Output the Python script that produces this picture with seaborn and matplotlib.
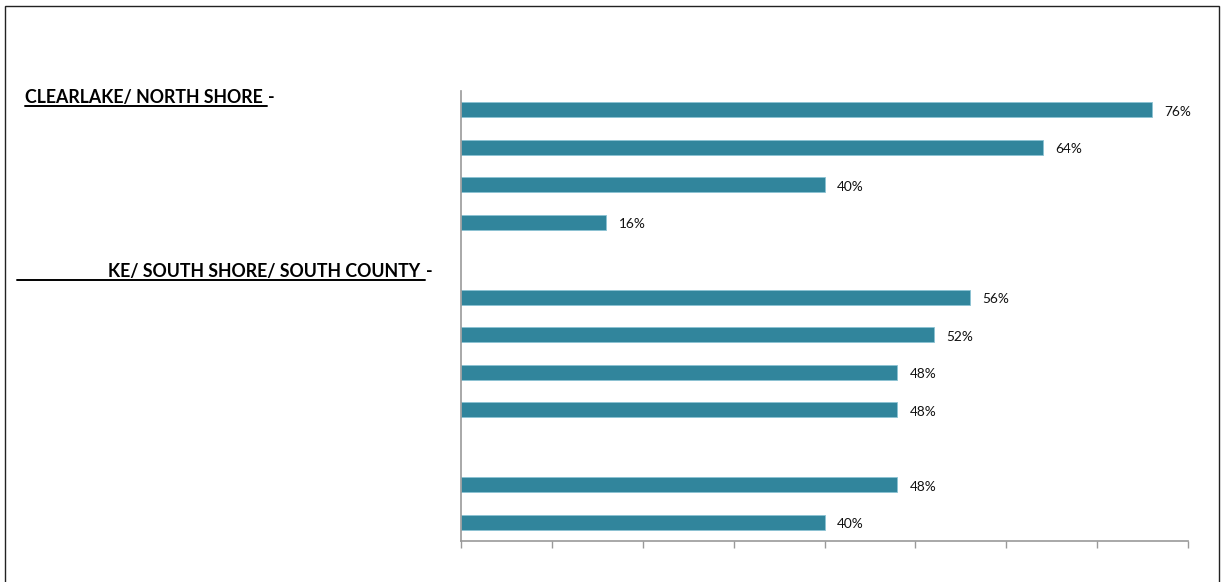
import matplotlib
matplotlib.use("Agg")
import matplotlib.pyplot as plt
from matplotlib.patches import Rectangle
from matplotlib.lines import Line2D
import seaborn as sns
import pandas as pd

# Rows of the chart, top to bottom; rows 5 and 10 are spacers with no bar
rows = ["r1", "r2", "r3", "r4", "r5", "r6", "r7", "r8", "r9", "r10", "r11", "r12"]
bar_rows = ["r1", "r2", "r3", "r4", "r6", "r7", "r8", "r9", "r11", "r12"]
percent = [76, 64, 40, 16, 56, 52, 48, 48, 48, 40]

header_1 = "CLEARLAKE/ NORTH SHORE "
header_2 = "KE/ SOUTH SHORE/ SOUTH COUNTY "

x_ticks = [0, 10, 20, 30, 40, 50, 60, 70, 80]

BAR = "#31859C"
W, H = 1225, 582

sns.set_theme(style="white")
plt.rcParams["font.family"] = ["Lato", "DejaVu Sans"]

fig = plt.figure(figsize=(W / 100, H / 100), dpi=100)
ax = fig.add_axes([461 / W, 1 - 541 / H, (1188 - 461) / W, (541 - 91) / H])

df = pd.DataFrame({"row": bar_rows, "pct": percent})
sns.barplot(data=df, x="pct", y="row", order=rows, orient="h",
            color=BAR, saturation=1, width=0.4, edgecolor="#8CC3D3",
            linewidth=0.6, ax=ax)

ax.set_xlim(x_ticks[0], x_ticks[-1])
ax.set_ylim(len(rows) - 0.5, -0.5)
ax.set_xticks(x_ticks)
ax.set_xticklabels([])
ax.set_yticks([])
ax.set_xlabel("")
ax.set_ylabel("")
ax.tick_params(axis="x", bottom=True, direction="out", length=5,
               width=1, color="#999999")
for side in ("top", "right"):
    ax.spines[side].set_visible(False)
for side in ("left", "bottom"):
    ax.spines[side].set_color("#999999")
    ax.spines[side].set_linewidth(1.2)

# Value labels just right of each bar end
for row, v in zip(bar_rows, percent):
    ax.annotate(f"{v}%", xy=(v, rows.index(row)), xytext=(9, -1.5),
                textcoords="offset points", ha="left", va="center",
                fontsize=9.8, color="#111111")

# Section headers with underline drawn beneath the text
renderer = fig.canvas.get_renderer()


def header(text, text_x, line_x, baseline_y):
    t = fig.text(text_x / W, 1 - baseline_y / H, text, fontsize=12.8,
                 fontweight="bold", color="black", va="baseline", ha="left")
    bb = t.get_window_extent(renderer=renderer)
    x_end = bb.x1
    uy = 1 - (baseline_y + 2.5) / H
    fig.add_artist(Line2D([line_x / W, x_end / W], [uy, uy],
                          transform=fig.transFigure, color="black", lw=1.4))
    fig.text((x_end + 1) / W, 1 - baseline_y / H, "-", fontsize=12.8,
             fontweight="bold", color="black", va="baseline", ha="left")


header(header_1, 25, 25, 103.5)
header(header_2, 108, 17, 277)

# Outer frame of the chart area
fig.add_artist(Rectangle((4.5 / W, -0.02), (1219 - 4.5) / W, 1 - 5.5 / H + 0.02,
                         transform=fig.transFigure, fill=False,
                         edgecolor="#222222", lw=1.0))

fig.savefig("out.png", dpi=100)
